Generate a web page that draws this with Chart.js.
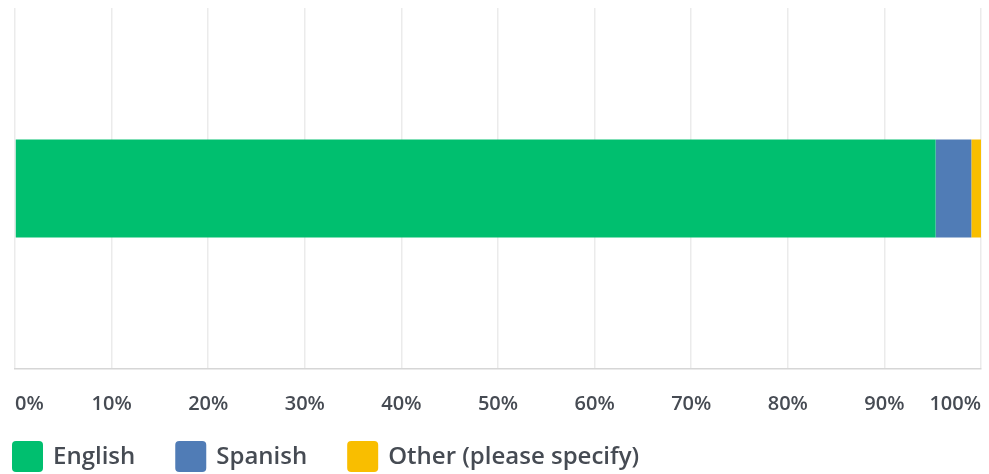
<!DOCTYPE html>
<html>
<head>
<meta charset="utf-8">
<script src="https://cdn.jsdelivr.net/npm/chart.js@4.4.1/dist/chart.umd.min.js"></script>
<style>
  html, body { margin: 0; padding: 0; background: #fff; }
  #wrap { width: 989px; height: 474px; }
</style>
</head>
<body>
<div id="wrap"><canvas id="chart" width="989" height="474"></canvas></div>
<script>
// data (percent of respondents)
const categories = ['Language'];
const seriesNames = ['English', 'Spanish', 'Other (please specify)'];
const seriesColors = ['#00bf6f', '#507cb6', '#f9be00'];
const englishValues = [95.3];
const spanishValues = [3.7];
const otherValues = [1.0];
const tickValues = [0, 10, 20, 30, 40, 50, 60, 70, 80, 90, 100];

const FONT = '"Open Sans", sans-serif';
const TEXT_COLOR = '#464b53';

// legend drawn by hand so boxes/spacing match the original
const bottomLegend = {
    id: 'bottomLegend',
    afterDraw(chart) {
        const { ctx } = chart;
        ctx.save();
        ctx.font = '600 24px ' + FONT;
        ctx.textBaseline = 'middle';
        let x = 12;
        const y = 441, size = 31;
        chart.data.datasets.forEach(ds => {
            ctx.fillStyle = ds.backgroundColor;
            ctx.beginPath();
            ctx.roundRect(x, y, size, size, 4);
            ctx.fill();
            ctx.fillStyle = TEXT_COLOR;
            ctx.fillText(ds.label, x + size + 10, y + size / 2 + 1);
            x += size + 10 + ctx.measureText(ds.label).width + 40;
        });
        ctx.restore();
    }
};

const datasets = [englishValues, spanishValues, otherValues].map((vals, i) => ({
    label: seriesNames[i],
    data: vals,
    backgroundColor: seriesColors[i],
    borderWidth: 0,
    categoryPercentage: 1,
    barPercentage: 0.272
}));

new Chart(document.getElementById('chart'), {
    type: 'bar',
    data: { labels: categories, datasets },
    options: {
        indexAxis: 'y',
        responsive: false,
        animation: false,
        layout: { padding: { left: 15, right: 8, top: 8, bottom: 35 } },
        scales: {
            x: {
                stacked: true,
                min: 0, max: 100,
                afterBuildTicks: (scale) => { scale.ticks = tickValues.map(v => ({ value: v })); },
                // labels are aligned inward, so no extra side padding is needed
                afterFit: (scale) => { scale.paddingLeft = 0; scale.paddingRight = 0; },
                grid: { color: '#ebebeb', lineWidth: 1.5, drawTicks: false },
                border: { color: '#d6d6d6', width: 1.5 },
                ticks: {
                    align: 'inner',
                    padding: 23,
                    color: TEXT_COLOR,
                    font: { family: FONT, size: 20, weight: '600' },
                    callback: (v) => v + '%'
                }
            },
            y: {
                stacked: true,
                display: false
            }
        },
        plugins: {
            legend: { display: false },
            tooltip: { enabled: false }
        }
    },
    plugins: [bottomLegend]
});
</script>
</body>
</html>
